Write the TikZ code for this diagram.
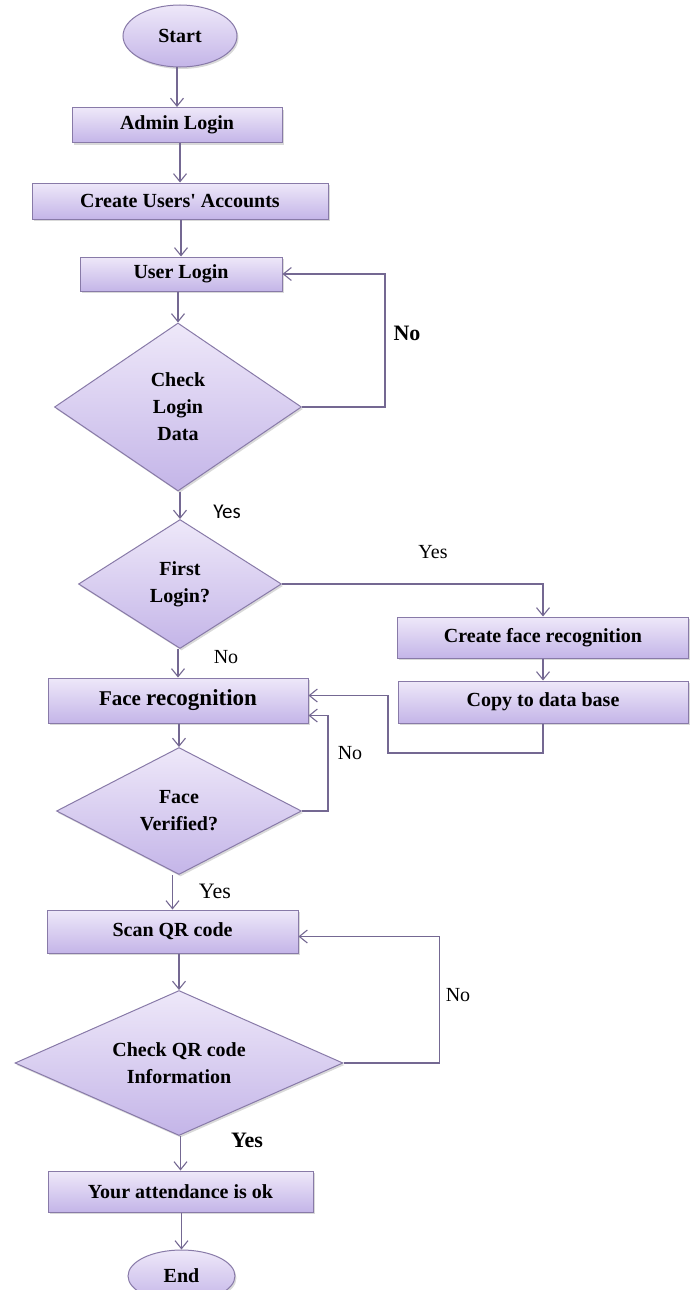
\documentclass[tikz,border=0pt]{standalone}
\usepackage{fontspec}
\setmainfont{Liberation Serif}
\newfontfamily\calfont{Carlito}
\usetikzlibrary{shapes.geometric,arrows.meta,shadows}

\definecolor{boxtop}{RGB}{238,232,249}
\definecolor{boxbot}{RGB}{196,181,232}
\definecolor{boxline}{RGB}{136,122,168}
\definecolor{flowline}{RGB}{116,104,146}

\newcommand{\boxfont}{\fontsize{20}{27}\selectfont\bfseries}

\begin{document}
\begin{tikzpicture}[x=1pt,y=-1pt,
    base/.style={draw=boxline, line width=1pt, top color=boxtop, bottom color=boxbot,
      drop shadow={shadow xshift=1.5pt,shadow yshift=-2pt,opacity=.3},
      font=\boxfont, align=center, inner sep=0pt},
    box/.style={base, rectangle},
    decision/.style={base, diamond, shape aspect=2},
    terminal/.style={base, ellipse},
    flow/.style={draw=flowline, line width=1.1pt, -{Straight Barb[length=8pt,width=13pt]}},
    lbl/.style={font=\fontsize{20}{20}\selectfont}]
    \useasboundingbox (0,0) rectangle (689,1290);
    % main column
    \node[terminal, minimum width=114pt, minimum height=62pt] (start) at (180,36) {Start};
    \node[box, minimum width=210pt, minimum height=35pt] (admin) at (177,125) {Admin Login};
    \node[box, minimum width=296pt, minimum height=36pt] (accounts) at (180,201) {Create Users\textquotesingle{} Accounts};
    \node[box, minimum width=202pt, minimum height=34pt] (user) at (181,274) {User Login};
    \node[decision, minimum width=247pt, minimum height=168pt] (checklogin) at (178,407) {Check\\Login\\Data};
    \node[decision, minimum width=203pt, minimum height=129pt] (first) at (180,584) {First\\Login?};
    \node[box, minimum width=260pt, minimum height=45pt] (face) at (178,700.5)
        {\fontsize{21}{27}\selectfont Face \fontsize{23}{27}\selectfont recognition};
    \node[decision, minimum width=245pt, minimum height=127pt] (verified) at (179,811) {Face\\Verified?};
    \node[box, minimum width=251pt, minimum height=43pt] (scan) at (172.5,931.5) {Scan QR code};
    \node[decision, minimum width=328pt, minimum height=145pt] (checkqr) at (179,1063) {Check QR code\\Information};
    \node[box, minimum width=265pt, minimum height=41pt] (attend) at (180.5,1191.5) {Your attendance is ok};
    \node[terminal, minimum width=107pt, minimum height=52pt] (end) at (181.5,1276) {End};
    % first login branch
    \node[box, minimum width=291pt, minimum height=41pt] (createface) at (543,637.5) {Create face recognition};
    \node[box, minimum width=290pt, minimum height=42pt] (copydb) at (543,702) {Copy to data base};
    \coordinate (back) at (388,753);

    \foreach \a/\b in {start/admin, admin/accounts, accounts/user, user/checklogin,
        checklogin/first, first/face, face/verified, verified/scan, scan/checkqr,
        checkqr/attend, attend/end}
        \draw[flow] (\a.south -| \b.north) -- (\b.north);
    \draw[flow] (createface) -- (copydb);
    \draw[flow] (checklogin.east) -- ++(83,0) |- (user.east);
    \draw[flow] (first.east) -| (createface.north);
    \draw[flow] (copydb.south) |- (back) |- ([yshift=5pt]face.east);
    \draw[flow] (verified.east) -- ++(26,0) |- ([yshift=-15pt]face.east);
    \draw[flow] (checkqr.east) -- ++(96,0) |- ([yshift=-5pt]scan.east);

    \node[font=\fontsize{22}{22}\selectfont\bfseries] (no1) at (407,333) {No};
    \node[font=\calfont\fontsize{21}{21}\selectfont] (yes1) at (227,512) {Yes};
    \node[lbl] (yes2) at (433,552) {Yes};
    \node[lbl] (no2) at (226,657) {No};
    \node[lbl] (no3) at (350,753) {No};
    \node[font=\fontsize{22}{22}\selectfont] (yes3) at (215,891) {Yes};
    \node[lbl] (no4) at (458,995) {No};
    \node[font=\fontsize{22}{22}\selectfont\bfseries] (yes4) at (247,1140) {Yes};
\end{tikzpicture}
\end{document}
